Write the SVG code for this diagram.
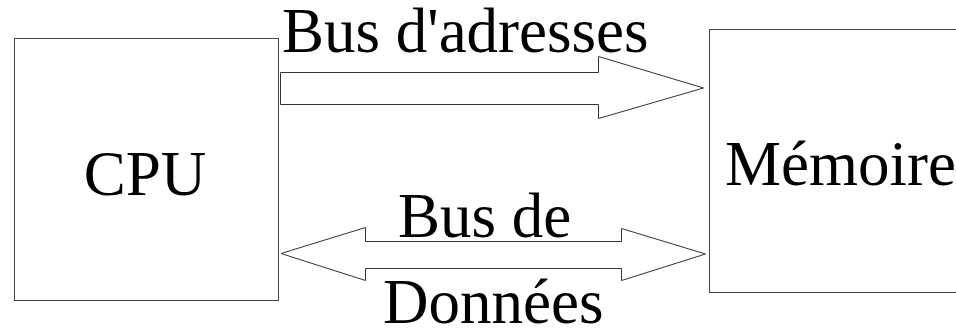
<svg xmlns="http://www.w3.org/2000/svg" width="956" height="328" viewBox="0 0 956 328">
  <style>
    .box { fill: #fff; stroke: #444; stroke-width: 1; }
    .bus { fill: #fff; stroke: #333; stroke-width: 1; stroke-linejoin: miter; }
    .lbl { font-family: "Liberation Serif", "Times New Roman", serif; font-size: 63px; fill: #000; }
  </style>
  <rect width="956" height="328" fill="#fff"/>

  <g id="cpu">
    <rect class="box" x="14.5" y="38.5" width="264" height="262"/>
    <text class="lbl" x="145" y="195" text-anchor="middle">CPU</text>
  </g>

  <g id="memoire">
    <rect class="box" x="709.5" y="29.5" width="260" height="263"/>
    <text class="lbl" x="725" y="185">Mémoire</text>
  </g>

  <g id="connectors">
    <!-- address bus: one-way block arrow CPU -> memory -->
    <g id="bus-adresses">
      <path class="bus" d="M280.5,72.5 H598.5 V56.5 L703.5,88 L598.5,118.5 V104.5 H280.5 Z"/>
      <text class="lbl" x="282" y="52">Bus d'adresses</text>
    </g>
    <!-- data bus: two-way block arrow -->
    <g id="bus-donnees">
      <path class="bus" d="M281,253.5 L365.5,227.5 V241.5 H621.5 V228.5 L705.5,254 L621.5,280.5 V268.5 H365.5 V280.5 Z"/>
      <text class="lbl" x="398" y="237">Bus de</text>
      <text class="lbl" x="383" y="323">Données</text>
    </g>
  </g>
</svg>
